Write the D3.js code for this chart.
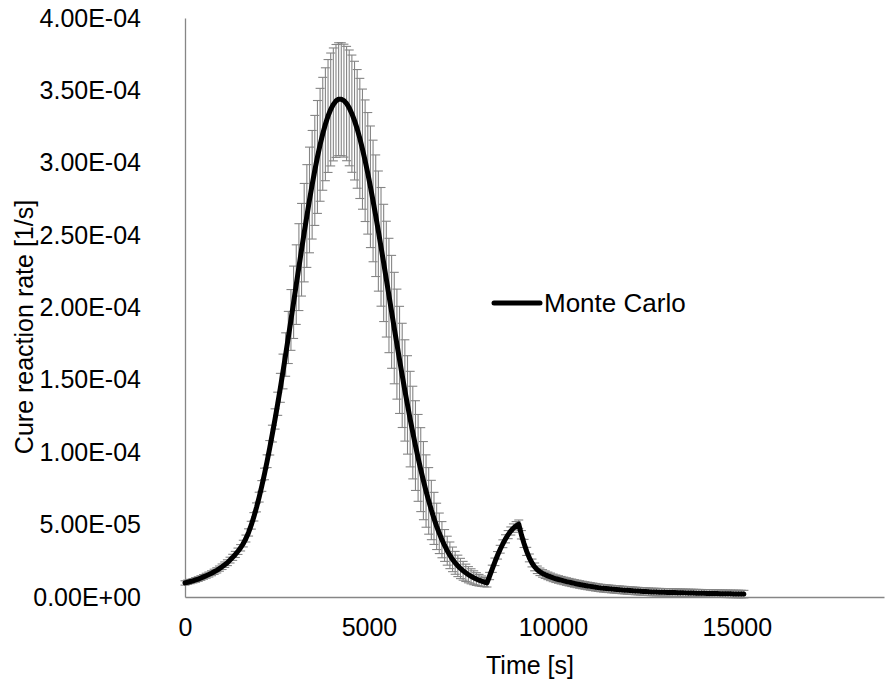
<!DOCTYPE html>
<html><head><meta charset="utf-8">
<script src="https://cdn.jsdelivr.net/npm/d3@7"></script>
<style>
html,body{margin:0;padding:0;background:#fff;}
svg{display:block;}
text{font-family:"Liberation Sans",Arial,sans-serif;fill:#000;}
</style>
</head><body>
<svg id="chart" width="885" height="685"></svg>
<script>
// ---- data (rates in units of 1e-6 1/s) ----
const UNIT = 1e-6;
const timeStart = 0;      // s
const timeStep = 72;      // s between samples
const meanRate = [
 9.7,10.2,10.7,11.2,11.8,12.4,13.1,13.9,14.7,15.5,
 16.4,17.4,18.4,19.6,20.9,22.3,23.7,25.5,27.4,29.4,
 31.6,34.0,36.9,40.4,44.6,49.6,55.4,61.9,69.0,76.7,
 85.0,93.8,103.1,112.9,123.0,133.5,144.5,155.8,167.5,179.3,
 191.4,203.6,215.8,227.9,239.9,251.7,263.2,274.3,284.8,294.7,
 304.0,312.4,320.0,326.6,332.3,336.8,340.3,342.7,343.9,343.9,
 342.9,340.9,337.9,333.9,329.1,323.4,316.8,309.4,301.4,292.7,
 283.4,273.6,263.4,252.8,241.9,230.8,219.6,208.3,197.0,185.8,
 174.7,163.8,153.1,142.7,132.7,122.9,113.6,104.6,96.1,88.0,
 80.4,73.2,66.4,60.1,54.3,48.8,44.0,39.6,35.6,32.0,
 28.8,26.0,23.6,21.5,19.7,18.1,16.7,15.4,14.3,13.3,
 12.4,11.6,10.9,10.3,9.7,
 14.5,19.5,24.3,28.8,33.0,36.8,40.2,43.1,45.6,47.6,49.2,50.3,
 43.0,37.0,31.5,27.0,23.5,20.8,18.8,17.4,16.3,15.4,14.6,13.9,13.2,12.6,12.1,11.6,
 11.13,10.67,10.24,9.82,9.41,9.03,8.66,8.30,7.96,7.64,7.33,7.03,6.74,6.46,6.20,
 6.02,5.84,5.66,5.50,5.33,5.18,5.02,4.87,4.73,4.59,4.45,4.32,4.19,4.07,3.95,3.83,3.72,3.61,3.50,
 3.44,3.39,3.34,3.28,3.23,3.18,3.13,3.08,3.03,2.98,2.94,2.89,2.85,2.80,2.76,2.71,2.67,2.63,2.59,2.55,
 2.50,2.46,2.43,2.39,2.35,2.31,2.28,2.24,2.21,2.17,2.14,2.10,2.07,2.04,2.00
];
const stdRate = [
 1.5,1.5,1.5,1.5,1.6,1.6,1.6,1.6,1.7,1.7,
 1.7,1.8,1.8,1.8,1.9,1.9,2.0,2.0,2.1,2.1,
 2.2,2.2,2.3,2.4,2.5,2.7,2.9,3.1,3.4,3.7,
 4.0,4.4,5.0,5.8,7.0,8,10,12,15,18,
 21,25,27.5,30,32,34,35.5,36.5,37.5,38,
 39,39,39,39,39,39,39,39,39,39,
 39,39.5,40,40.5,41,41,41.5,41.5,42,42,
 42,42,42,41.5,41,40.5,40,39.5,39,38.5,
 38,37,36,35,34,33,32,31,30,29,
 27,25,23,20.5,18,16,14,12.5,11,10,
 9.2,8.5,7.9,7.4,7.0,6.5,6.0,5.6,5.2,4.8,
 4.4,4.0,3.6,3.2,2.8,
 2.5,2.5,2.6,2.6,2.7,2.7,2.8,2.8,2.8,2.9,2.9,2.9,
 2.9,2.8,2.8,2.7,2.7,2.7,2.6,2.6,2.6,2.6,2.6,2.6,2.6,2.6,2.6,2.6,
 2.6,2.6,2.6,2.6,2.6,2.6,2.6,2.6,2.6,2.6,2.6,2.6,2.6,2.6,2.6,
 2.6,2.6,2.6,2.6,2.6,2.6,2.6,2.6,2.6,2.6,2.6,2.6,2.6,2.6,2.6,2.6,2.6,2.6,2.6,
 2.6,2.6,2.6,2.6,2.6,2.6,2.6,2.6,2.6,2.6,2.6,2.6,2.6,2.6,2.6,2.6,2.6,2.6,2.6,2.6,
 2.6,2.6,2.6,2.6,2.6,2.6,2.6,2.6,2.6,2.6,2.6,2.6,2.6,2.6,2.6
];
const xTicks = [0, 5000, 10000, 15000];
const xDomain = [0, 19000];
const yTicks = [0, 5e-5, 1e-4, 1.5e-4, 2e-4, 2.5e-4, 3e-4, 3.5e-4, 4e-4];
const yTickLabels = ["0.00E+00","5.00E-05","1.00E-04","1.50E-04","2.00E-04","2.50E-04","3.00E-04","3.50E-04","4.00E-04"];
const yDomain = [0, 4e-4];
const seriesName = "Monte Carlo";
const xTitle = "Time [s]";
const yTitle = "Cure reaction rate [1/s]";

// ---- build ----
const points = meanRate.map((m, i) => ({
  t: timeStart + i * timeStep,
  m: m * UNIT,
  s: stdRate[i] * UNIT
}));

const svg = d3.select("#chart");
const x = d3.scaleLinear().domain(xDomain).range([185, 884]);
const y = d3.scaleLinear().domain(yDomain).range([597, 18]);
const FS = 25;
const FONT = "Liberation Sans, Arial, sans-serif";
const axisColor = "#868686";

// y axis
const gy = svg.append("g").attr("transform", "translate(185,0)")
  .call(d3.axisLeft(y).tickValues(yTicks).tickSize(0).tickSizeOuter(0).tickPadding(44)
    .tickFormat((d, i) => yTickLabels[i]));
gy.select(".domain").attr("stroke", axisColor).attr("stroke-width", 1.3);
gy.selectAll("text").attr("font-size", FS).attr("font-family", FONT).attr("fill", "#000");

// x axis
const gx = svg.append("g").attr("transform", "translate(0,597)")
  .call(d3.axisBottom(x).tickValues(xTicks).tickSize(0).tickSizeOuter(0).tickPadding(21)
    .tickFormat(d3.format("d")));
gx.select(".domain").attr("stroke", axisColor).attr("stroke-width", 1.3);
gx.selectAll("text").attr("font-size", FS).attr("font-family", FONT).attr("fill", "#000");

// error bars
const eb = svg.append("g").attr("stroke", "#858585").attr("stroke-width", 1.1).attr("fill", "none");
const capW = 4.5;
points.forEach(p => {
  const px = x(p.t), y1 = y(p.m + p.s), y0 = y(p.m - p.s);
  eb.append("line").attr("x1", px).attr("x2", px).attr("y1", y1).attr("y2", y0);
  eb.append("line").attr("x1", px - capW).attr("x2", px + capW).attr("y1", y1).attr("y2", y1);
  eb.append("line").attr("x1", px - capW).attr("x2", px + capW).attr("y1", y0).attr("y2", y0);
});

// mean line
svg.append("path").datum(points)
  .attr("fill", "none").attr("stroke", "#000").attr("stroke-width", 5)
  .attr("stroke-linejoin", "round").attr("stroke-linecap", "round")
  .attr("d", d3.line().x(d => x(d.t)).y(d => y(d.m)));

// legend
svg.append("line").attr("x1", 494).attr("x2", 540).attr("y1", 303).attr("y2", 303)
  .attr("stroke", "#000").attr("stroke-width", 5).attr("stroke-linecap", "round");
svg.append("text").attr("x", 544).attr("y", 303).attr("dy", "0.35em")
  .attr("font-size", 26).text(seriesName);

// titles
svg.append("text").attr("x", 530).attr("y", 674).attr("text-anchor", "middle")
  .attr("font-size", FS).text(xTitle);
svg.append("text").attr("transform", "translate(33,327) rotate(-90)")
  .attr("text-anchor", "middle").attr("font-size", FS).text(yTitle);
</script>
</body></html>
